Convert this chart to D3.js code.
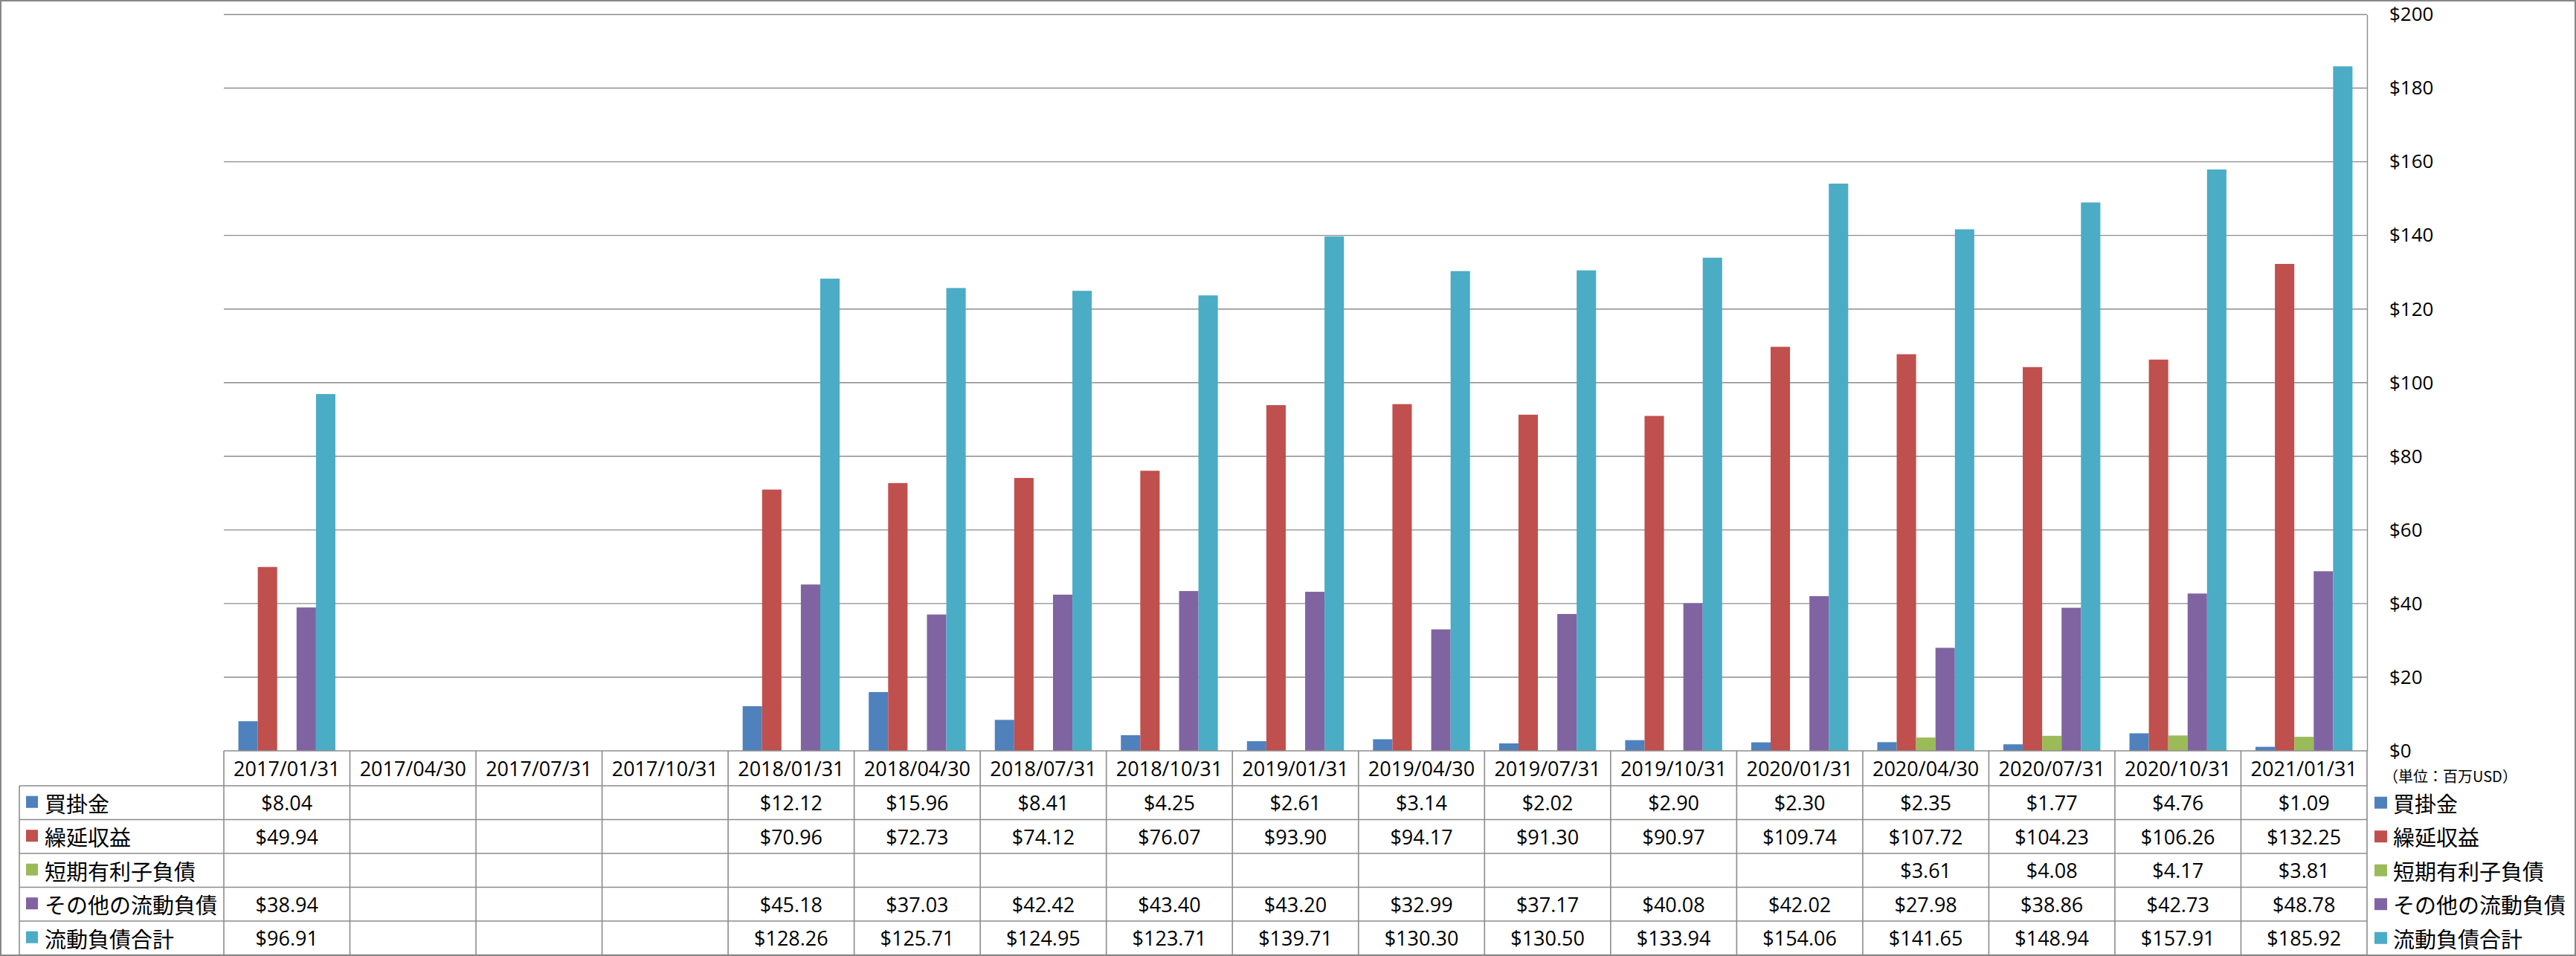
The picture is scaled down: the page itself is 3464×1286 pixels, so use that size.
<!DOCTYPE html>
<html><head><meta charset="utf-8">
<script src="https://cdn.jsdelivr.net/npm/d3@7"></script>
<style>html,body{margin:0;padding:0;background:#fff;} svg{display:block;}</style>
</head><body>
<svg id="chart" width="3464" height="1286"></svg>
<script>
const categories = ["2017/01/31","2017/04/30","2017/07/31","2017/10/31","2018/01/31","2018/04/30","2018/07/31","2018/10/31","2019/01/31","2019/04/30","2019/07/31","2019/10/31","2020/01/31","2020/04/30","2020/07/31","2020/10/31","2021/01/31"];
const seriesNames = ["買掛金","繰延収益","短期有利子負債","その他の流動負債","流動負債合計"];
const accountsPayable = [8.04,null,null,null,12.12,15.96,8.41,4.25,2.61,3.14,2.02,2.90,2.30,2.35,1.77,4.76,1.09];
const deferredRevenue = [49.94,null,null,null,70.96,72.73,74.12,76.07,93.90,94.17,91.30,90.97,109.74,107.72,104.23,106.26,132.25];
const shortTermDebt = [null,null,null,null,null,null,null,null,null,null,null,null,null,3.61,4.08,4.17,3.81];
const otherCurrent = [38.94,null,null,null,45.18,37.03,42.42,43.40,43.20,32.99,37.17,40.08,42.02,27.98,38.86,42.73,48.78];
const totalCurrent = [96.91,null,null,null,128.26,125.71,124.95,123.71,139.71,130.30,130.50,133.94,154.06,141.65,148.94,157.91,185.92];
const yTicks = [0,20,40,60,80,100,120,140,160,180,200];
const unitLabel = "（単位：百万USD）";
const colors = ["#4F81BD","#C0504D","#9BBB59","#8064A2","#4BACC6"];

const seriesValues = [accountsPayable, deferredRevenue, shortTermDebt, otherCurrent, totalCurrent];

const W = 3464, H = 1286;
const plotL = 301, plotR = 3183, plotT = 19.5, plotB = 1010;
const rowH = 45.5, headerH = 47;
const labelL = 26;
const gridColor = "#8c8c8c";
const latin = "'Open Sans', 'Liberation Sans', sans-serif";
const cjk = "'Noto Sans CJK JP', 'Noto Sans', sans-serif";

const svg = d3.select("#chart");

const x = d3.scaleBand().domain(categories).range([plotL, plotR]).paddingInner(0).paddingOuter(0);
const xs = d3.scaleBand().domain(d3.range(seriesNames.length)).range([0, x.bandwidth()]).paddingInner(0).paddingOuter(0.75);
const y = d3.scaleLinear().domain([0, 200]).range([plotB, plotT]);

// gridlines
svg.append("g").selectAll("line").data(yTicks.filter(d => d > 0)).join("line")
  .attr("x1", plotL).attr("x2", plotR)
  .attr("y1", d => y(d)).attr("y2", d => y(d))
  .attr("stroke", gridColor).attr("stroke-width", 1.4);

// bars
const barsG = svg.append("g");
seriesValues.forEach((vals, si) => {
  barsG.append("g").selectAll("rect")
    .data(categories.map((c, i) => ({c, v: vals[i]})).filter(d => d.v != null))
    .join("rect")
    .attr("x", d => x(d.c) + xs(si))
    .attr("width", xs.bandwidth())
    .attr("y", d => y(d.v))
    .attr("height", d => y(0) - y(d.v))
    .attr("fill", colors[si]);
});

// right axis
const axis = d3.axisRight(y).tickValues(yTicks).tickSize(0).tickPadding(30).tickFormat(d => "$" + d);
const ag = svg.append("g").attr("transform", `translate(${plotR},0)`).call(axis);
ag.select(".domain").attr("stroke", gridColor).attr("stroke-width", 1.4);
ag.selectAll("text").attr("font-family", latin).attr("font-size", 26).attr("fill", "#000");

// unit label
svg.append("text").attr("x", 3205).attr("y", 1052).attr("font-family", cjk).attr("font-size", 20)
  .attr("fill", "#000").text(unitLabel);

// table
const tableTop = plotB;
const headerBottom = tableTop + headerH;
const rowsY = d3.range(seriesNames.length + 1).map(i => headerBottom + i * rowH);
const tg = svg.append("g");
const lineAttr = sel => sel.attr("stroke", gridColor).attr("stroke-width", 1.6);

// horizontal lines
tg.append("line").attr("x1", plotL).attr("x2", plotR).attr("y1", tableTop).attr("y2", tableTop).call(lineAttr);
rowsY.forEach(yy => tg.append("line").attr("x1", labelL).attr("x2", plotR).attr("y1", yy).attr("y2", yy).call(lineAttr));
// vertical lines
categories.forEach(c => tg.append("line").attr("x1", x(c)).attr("x2", x(c)).attr("y1", tableTop).attr("y2", rowsY[rowsY.length-1]).call(lineAttr));
tg.append("line").attr("x1", plotR).attr("x2", plotR).attr("y1", tableTop).attr("y2", rowsY[rowsY.length-1]).call(lineAttr);
tg.append("line").attr("x1", labelL).attr("x2", labelL).attr("y1", headerBottom).attr("y2", rowsY[rowsY.length-1]).call(lineAttr);

// header labels
tg.append("g").selectAll("text").data(categories).join("text")
  .attr("x", d => x(d) + x.bandwidth()/2).attr("y", tableTop + headerH/2)
  .attr("text-anchor", "middle").attr("dominant-baseline", "central")
  .attr("font-family", latin).attr("font-size", 27).attr("fill", "#000").text(d => d);

// cell values
const fmt = d3.format(".2f");
seriesValues.forEach((vals, si) => {
  tg.append("g").selectAll("text")
    .data(categories.map((c, i) => ({c, v: vals[i]})).filter(d => d.v != null))
    .join("text")
    .attr("x", d => x(d.c) + x.bandwidth()/2)
    .attr("y", rowsY[si] + rowH/2)
    .attr("text-anchor", "middle").attr("dominant-baseline", "central")
    .attr("font-family", latin).attr("font-size", 27).attr("fill", "#000")
    .text(d => "$" + fmt(d.v));
});

// left row labels
seriesNames.forEach((n, si) => {
  const cy = rowsY[si] + rowH/2;
  tg.append("rect").attr("x", 35).attr("y", cy - 9).attr("width", 16).attr("height", 16).attr("fill", colors[si]);
  tg.append("text").attr("x", 60).attr("y", cy).attr("dominant-baseline", "central")
    .attr("font-family", cjk).attr("font-size", 29).attr("fill", "#000").text(n);
});

// right legend
seriesNames.forEach((n, si) => {
  const cy = rowsY[si] + rowH/2;
  svg.append("rect").attr("x", 3193).attr("y", cy - 8).attr("width", 17).attr("height", 16).attr("fill", colors[si]);
  svg.append("text").attr("x", 3218).attr("y", cy).attr("dominant-baseline", "central")
    .attr("font-family", cjk).attr("font-size", 29).attr("fill", "#000").text(n);
});

// outer frame
svg.append("rect").attr("x", 1).attr("y", 1).attr("width", W - 2).attr("height", H - 2)
  .attr("fill", "none").attr("stroke", "#888").attr("stroke-width", 2);
</script>
</body></html>
